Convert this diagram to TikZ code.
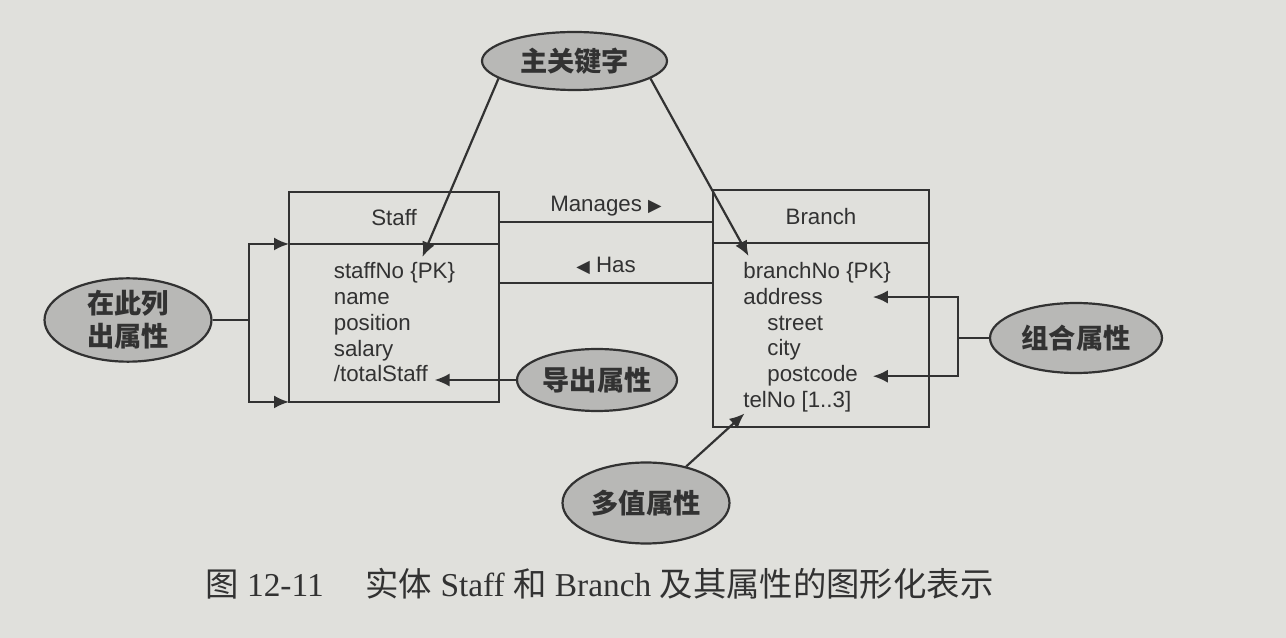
\documentclass[tikz,border=0pt]{standalone}
\usepackage{fontspec}
\setmainfont{Liberation Sans}
\newfontfamily\cjk{Noto Sans CJK SC}
\newfontfamily\capserif{Liberation Serif}
\newfontfamily\symfont{DejaVu Sans}
\usetikzlibrary{%
    shapes.geometric,%
    arrows.meta,%
    calc%
}
\definecolor{paper}{RGB}{224,224,220}
\definecolor{ink}{RGB}{50,50,50}
\definecolor{bubble}{RGB}{184,184,182}

\begin{document}
\begin{tikzpicture}[
  x=0.02cm, y=-0.02cm,
  >={Latex[length=3mm,width=2.6mm]},
  conn/.style={draw=ink, line width=1.25pt},
  entity/.style={conn, rectangle, inner sep=0pt, outer sep=0pt, text=ink,
    font={\fontsize{12.7pt}{15pt}\selectfont}},
  attr/.style={anchor=base west, inner sep=0.05cm, text=ink,
    font={\fontsize{12.7pt}{15pt}\selectfont}},
  note/.style={
    % grey bubbles with the Chinese remarks
    ellipse, conn, fill=bubble, inner sep=0pt, text=ink, align=center,
    font={\fontsize{15.5pt}{18.8pt}\selectfont\cjk\bfseries}},
  rel/.style={above, inner sep=0.08cm, text depth=0.1cm, text=ink,
    font={\fontsize{12.7pt}{15pt}\selectfont}},
  ]
  % Paper
  \fill[paper] (0,0) rectangle (1286,638);
  \useasboundingbox (0,0) rectangle (1286,638);
  % Staff entity
  \node[entity, minimum width=4.2cm, minimum height=1.04cm] (staffT) at (394,218) {Staff};
  \node[entity, minimum width=4.2cm, minimum height=3.16cm, anchor=north] (staffA) at (staffT.south) {};
  \node[attr] (staffNo) at (331,279) {staffNo \{PK\}};
  \node[attr] (sName) at (331,304.75) {name};
  \node[attr] (sPosition) at (331,330.5) {position};
  \node[attr] (sSalary) at (331,356.25) {salary};
  \node[attr] (totalStaff) at (331,382) {/totalStaff};
  % Branch entity
  \node[entity, minimum width=4.32cm, minimum height=1.06cm] (branchT) at (821,216.5) {Branch};
  \node[entity, minimum width=4.32cm, minimum height=3.68cm, anchor=north] (branchA) at (branchT.south) {};
  \node[attr] (branchNo) at (740.5,279) {branchNo \{PK\}};
  \node[attr] (address) at (740.5,305) {address};
  \node[attr] (street) at (764.5,331) {street};
  \node[attr] (city) at (764.5,356) {city};
  \node[attr] (postcode) at (764.5,382) {postcode};
  \node[attr] (telNo) at (740.5,408) {telNo [1..3]};
  % Relationships
  \coordinate (mL) at ($(staffT.east)+(0,4)$);
  \coordinate (hL) at ($(staffA.north east)+(0,39)$);
  \draw[conn] (mL) -- (mL -| branchT.west)
    node[rel, midway] {Manages {\symfont\fontsize{10pt}{12pt}\selectfont ▶}};
  \draw[conn] (hL) -- (hL -| branchA.west)
    node[rel, midway] {{\symfont\fontsize{10pt}{12pt}\selectfont ◀} Has};
  % Remarks
  \node[note, minimum width=3.7cm, minimum height=1.16cm] (pk) at (574.5,61) {主关键字};
  \node[note, minimum width=3.34cm, minimum height=1.52cm] (list) at (128,320) {在此列\\出属性};
  \node[note, minimum width=3.2cm, minimum height=1.24cm] (derived) at (597,380) {导出属性};
  \node[note, minimum width=3.44cm, minimum height=1.4cm] (comp) at (1076,338) {组合属性};
  \node[note, minimum width=3.34cm, minimum height=1.62cm] (multi) at (646,503) {多值属性};
  % Primary key
  \draw[conn,->] (pk.193) -- ($(staffNo.north)+(28,-3)$);
  \draw[conn,->] (pk.347) -- ($(branchNo.north west)+(8,-4)$);
  % Attributes listed here
  \coordinate (lbrk) at (249,320);
  \draw[conn] (list.east) -- (lbrk);
  \draw[conn,->] (lbrk) |- (staffA.north west);
  \draw[conn,->] (lbrk) |- (staffA.south west);
  % Derived attribute
  \draw[conn,->] (derived.west) -- ($(derived.west -| totalStaff.east)+(4,0)$);
  % Composite attribute
  \coordinate (rbrk) at (958,338);
  \coordinate (ctip) at ($(postcode.east)+(12,0)$);
  \draw[conn] (comp.west) -- (rbrk);
  \draw[conn,->] (rbrk) |- (address.east -| ctip);
  \draw[conn,->] (rbrk) |- (postcode.east -| ctip);
  % Multi-valued attribute
  \draw[conn,->] (multi) -- ($(telNo.south west)+(4,-2)$);
  % Caption
  \node[anchor=base west, inner sep=0pt, text=ink,
    font={\fontsize{19pt}{22pt}\selectfont\capserif}] (caption) at (205,597)
    {{\cjk 图}~12-11\quad\ {\cjk 实体}~Staff~{\cjk 和}~Branch~{\cjk 及其属性的图形化表示}};
\end{tikzpicture}
\end{document}
